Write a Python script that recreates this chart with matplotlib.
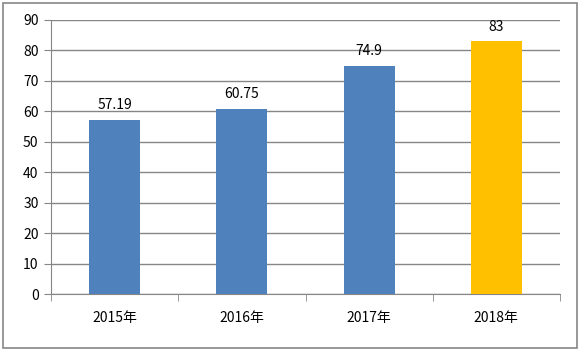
import matplotlib.pyplot as plt
from matplotlib.patches import Rectangle

plt.rcParams['font.family'] = ['Noto Sans CJK SC', 'DejaVu Sans']

years = ["2015年", "2016年", "2017年", "2018年"]
values = [57.19, 60.75, 74.9, 83]
labels = ["57.19", "60.75", "74.9", "83"]
colors = ["#4F81BD", "#4F81BD", "#4F81BD", "#FFC000"]

fig = plt.figure(figsize=(5.84, 3.53), dpi=100)
ax = fig.add_axes([51 / 584, 59 / 353, 509 / 584, 274 / 353])

x = range(len(years))
bars = ax.bar(x, values, width=0.4, color=colors, zorder=3)
for b, lab in zip(bars, labels):
    ax.text(b.get_x() + b.get_width() / 2, b.get_height() + 2.5, lab,
            ha="center", va="bottom", fontsize=10, color="black")

ax.set_ylim(0, 90)
ax.set_yticks(range(0, 91, 10))
ax.set_xlim(-0.5, len(years) - 0.5)
ax.set_xticks(list(x))
ax.set_xticklabels(years)
ax.set_xticks([i - 0.5 for i in range(len(years) + 1)], minor=True)
ax.grid(axis="y", color="#868686", linewidth=1, zorder=0)

for s in ["top", "right"]:
    ax.spines[s].set_visible(False)
for s in ["left", "bottom"]:
    ax.spines[s].set_color("#868686")
ax.tick_params(axis="y", length=5, color="#868686", labelsize=10, pad=4)
ax.tick_params(axis="x", which="major", length=0, labelsize=10, pad=12)
ax.tick_params(axis="x", which="minor", length=5, color="#868686")

fig.patches.append(Rectangle((3 / 584, 5 / 353), 574 / 584, 345 / 353,
                             transform=fig.transFigure, fill=False,
                             edgecolor="#868686", linewidth=1.2))

fig.savefig("out.png", dpi=100)
